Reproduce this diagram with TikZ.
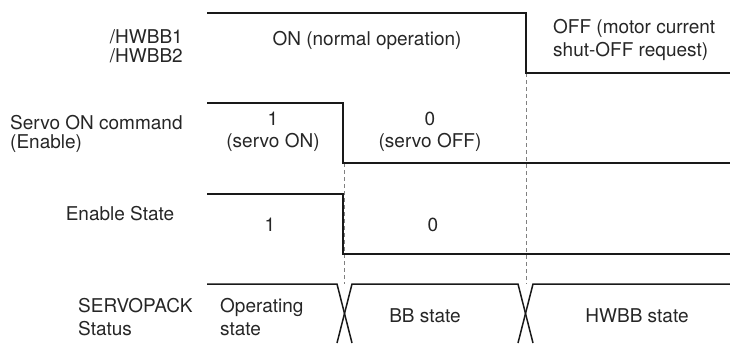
\documentclass[tikz,border=0pt]{standalone}
\usepackage{fontspec}
\setmainfont{TeX Gyre Heros}
\begin{document}
\begin{tikzpicture}[x=1pt,y=-1pt,
  wave/.style={line width=1.5pt,black!90},
  guide/.style={line width=0.8pt,gray,dash pattern=on 4pt off 3pt},
  lbl/.style={font=\fontsize{19}{19}\selectfont,inner sep=0pt,align=center,text=black!85},
  lbll/.style={lbl,align=left}]
\useasboundingbox (0,0) rectangle (730,343);
% guide lines
\draw[guide] (344,163) -- (344,284);
\draw[guide] (526,73) -- (526,284);
% waveforms
\draw[wave] (207,13) -- (526,13) -- (526,73) -- (730,73);
\draw[wave] (207,103) -- (343,103) -- (343,163) -- (730,163);
\draw[wave] (207,194) -- (343,194) -- (343,254) -- (730,254);
\draw[wave] (207,284) -- (337,284) -- (352,343);
\draw[wave] (337,343) -- (352,284) -- (518,284) -- (533,343);
\draw[wave] (518,343) -- (533,284) -- (730,284);
% labels (base anchor = baseline of the last line)
\node[lbl,anchor=base east,align=right,font=\fontsize{19}{19}\selectfont] (hwbb) at (183,62) {/HWBB1\\/HWBB2};
\node[lbl,anchor=base] (on) at (367,45) {ON (normal operation)};
\node[lbll,anchor=base west,font=\fontsize{19}{23}\selectfont] (off) at (553,56) {OFF (motor current\\shut-OFF request)};
\node[lbll,anchor=base west,font=\fontsize{19}{19}\selectfont] (son) at (10,148) {Servo ON command\\(Enable)};
\node[lbl,anchor=base,font=\fontsize{19}{22}\selectfont] (s1) at (273,147) {1\\(servo ON)};
\node[lbl,anchor=base,font=\fontsize{19}{22}\selectfont] (s0) at (430,147) {0\\(servo OFF)};
\node[lbl,anchor=base] (es) at (120,220) {Enable State};
\node[lbl,anchor=base] (e1) at (270,231) {1};
\node[lbl,anchor=base] (e0) at (433,231) {0};
\node[lbll,anchor=base west,font=\fontsize{19}{23}\selectfont] (sp) at (78,335) {SERVOPACK\\Status};
\node[lbll,anchor=base west,font=\fontsize{19}{23}\selectfont] (op) at (220,335) {Operating\\state};
\node[lbl,anchor=base] (bb) at (425,322) {BB state};
\node[lbl,anchor=base] (hw) at (637,322) {HWBB state};
\end{tikzpicture}
\end{document}
